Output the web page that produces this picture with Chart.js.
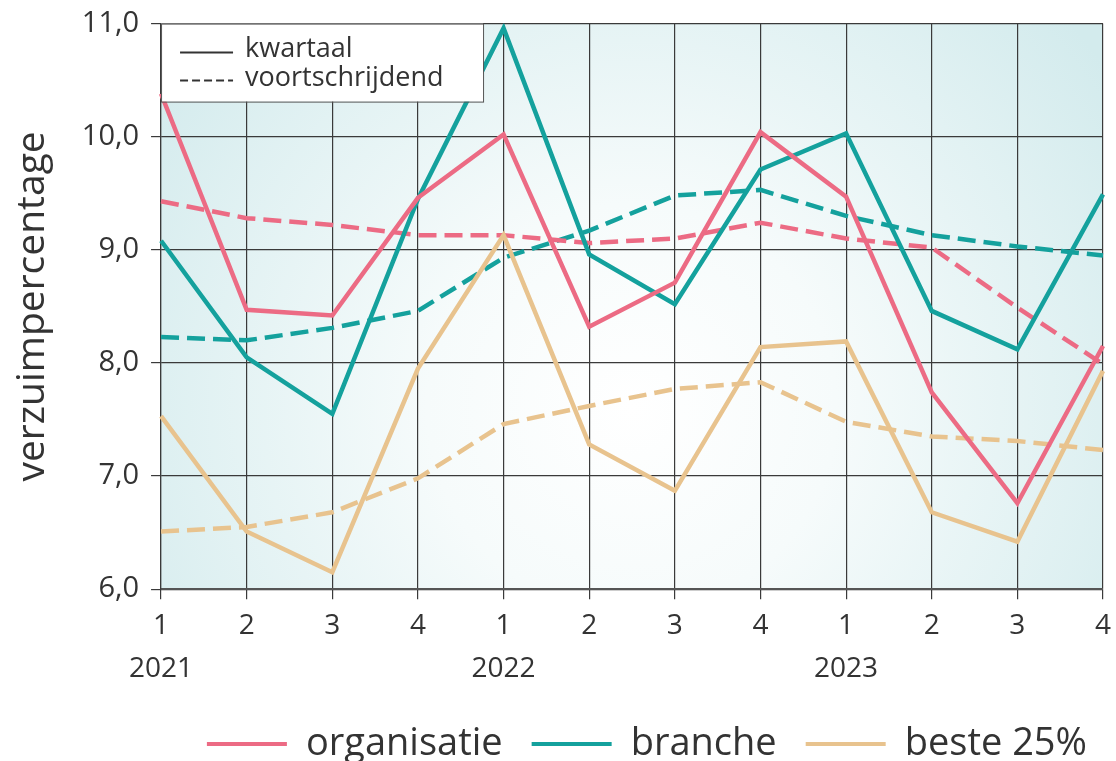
<!DOCTYPE html>
<html>
<head>
<meta charset="utf-8">
<script src="https://cdn.jsdelivr.net/npm/chart.js@4.4.1/dist/chart.umd.min.js"></script>
<style>
  html, body { margin: 0; padding: 0; background: #fff; }
  #wrap { width: 1116px; height: 761px; }
</style>
</head>
<body>
<div id="wrap"><canvas id="chart"></canvas></div>
<script>
  // kwartalen en jaartallen op de x-as
  const quarters = ['1', '2', '3', '4', '1', '2', '3', '4', '1', '2', '3', '4'];
  const years = ['2021', '', '', '', '2022', '', '', '', '2023', '', '', ''];

  // verzuimpercentages per kwartaal
  const orgKwartaal = [10.38, 8.47, 8.42, 9.46, 10.02, 8.32, 8.71, 10.04, 9.47, 7.74, 6.76, 8.15];
  const brancheKwartaal = [9.08, 8.05, 7.55, 9.45, 10.96, 8.96, 8.52, 9.71, 10.03, 8.46, 8.12, 9.49];
  const besteKwartaal = [7.53, 6.51, 6.15, 7.95, 9.13, 7.28, 6.87, 8.14, 8.19, 6.68, 6.42, 7.93];

  // voortschrijdend gemiddelde
  const orgVoort = [9.43, 9.28, 9.22, 9.13, 9.13, 9.06, 9.10, 9.24, 9.10, 9.02, 8.49, 7.99];
  const brancheVoort = [8.23, 8.20, 8.31, 8.46, 8.93, 9.17, 9.48, 9.53, 9.30, 9.13, 9.03, 8.95];
  const besteVoort = [6.51, 6.55, 6.68, 6.98, 7.46, 7.62, 7.77, 7.83, 7.48, 7.35, 7.31, 7.23];

  const yTicks = [6, 7, 8, 9, 10, 11];

  const PINK = '#ec6b84';
  const TEAL = '#14a19d';
  const TAN = '#e8c38e';
  const FONT = "'Open Sans', sans-serif";

  const labels = quarters.map((q, i) => years[i] ? [q, years[i]] : q);

  const lineDataset = (label, data, color, dashed) => ({
    label,
    data,
    borderColor: color,
    backgroundColor: color,
    borderWidth: 4.5,
    borderDash: dashed ? [18, 8] : [],
    pointRadius: 0,
    tension: 0,
    fill: false,
    dashed
  });

  // achtergrond met radiale kleurverloop
  const bgPlugin = {
    id: 'bgGradient',
    beforeDraw(chart) {
      const { ctx, chartArea: a } = chart;
      const cx = a.left + a.width * 0.5;
      const cy = a.top + a.height * 0.68;
      const g = ctx.createRadialGradient(cx, cy, 0, cx, cy, a.width * 0.62);
      g.addColorStop(0, '#ffffff');
      g.addColorStop(0.35, '#f6fbfb');
      g.addColorStop(1, '#d3ebed');
      ctx.save();
      ctx.fillStyle = g;
      ctx.fillRect(a.left, a.top, a.width, a.height);
      ctx.restore();
    }
  };

  // legenda linksboven: kwartaal / voortschrijdend
  const styleLegend = {
    id: 'styleLegend',
    afterDatasetsDraw(chart) {
      const { ctx, chartArea: a } = chart;
      const x = a.left, y = a.top, w = 322, h = 78;
      ctx.save();
      ctx.fillStyle = '#ffffff';
      ctx.fillRect(x, y, w, h);
      ctx.strokeStyle = '#555';
      ctx.lineWidth = 1;
      ctx.strokeRect(x + 0.5, y + 0.5, w, h);
      ctx.strokeStyle = '#333';
      ctx.lineWidth = 2;
      ctx.beginPath();
      ctx.moveTo(x + 19, y + 29);
      ctx.lineTo(x + 72, y + 29);
      ctx.stroke();
      ctx.setLineDash([8, 4]);
      ctx.beginPath();
      ctx.moveTo(x + 19, y + 57);
      ctx.lineTo(x + 72, y + 57);
      ctx.stroke();
      ctx.setLineDash([]);
      ctx.fillStyle = '#333';
      ctx.font = "27px " + FONT;
      ctx.textBaseline = 'middle';
      ctx.fillText('kwartaal', x + 84, y + 26);
      ctx.fillText('voortschrijdend', x + 84, y + 55);
      ctx.restore();
    }
  };

  new Chart(document.getElementById('chart'), {
    type: 'line',
    data: {
      labels,
      datasets: [
        lineDataset('organisatie', orgKwartaal, PINK, false),
        lineDataset('branche', brancheKwartaal, TEAL, false),
        lineDataset('beste 25%', besteKwartaal, TAN, false),
        lineDataset('organisatie voortschrijdend', orgVoort, PINK, true),
        lineDataset('branche voortschrijdend', brancheVoort, TEAL, true),
        lineDataset('beste 25% voortschrijdend', besteVoort, TAN, true)
      ]
    },
    options: {
      responsive: true,
      maintainAspectRatio: false,
      animation: false,
      layout: { padding: { left: 0, right: 0, top: 0, bottom: -12 } },
      plugins: {
        tooltip: { enabled: false },
        legend: {
          position: 'bottom',
          align: 'end',
          labels: {
            font: { family: FONT, size: 38 },
            color: '#333',
            boxWidth: 80,
            boxHeight: 4,
            padding: 29,
            generateLabels(chart) {
              return chart.data.datasets
                .map((ds, i) => ({ ds, i }))
                .filter(o => !o.ds.dashed)
                .map(o => ({
                  text: o.ds.label,
                  fillStyle: o.ds.borderColor,
                  strokeStyle: o.ds.borderColor,
                  lineWidth: 0,
                  datasetIndex: o.i,
                  fontColor: '#333'
                }));
            }
          }
        }
      },
      scales: {
        x: {
          type: 'category',
          offset: false,
          grid: { color: '#3a3a3a', lineWidth: 1.2, tickLength: 10, drawOnChartArea: true },
          border: { color: '#555', width: 2 },
          ticks: {
            font: { family: FONT, size: 28, lineHeight: 1.55 },
            color: '#333',
            padding: 5,
            maxRotation: 0,
            autoSkip: false
          }
        },
        y: {
          min: yTicks[0],
          max: yTicks[yTicks.length - 1],
          afterBuildTicks(scale) {
            scale.ticks = yTicks.map(v => ({ value: v }));
          },
          grid: { color: '#3a3a3a', lineWidth: 1.2, tickLength: 10 },
          border: { color: '#3a3a3a', width: 1.2 },
          title: {
            display: true,
            text: 'verzuimpercentage',
            font: { family: FONT, size: 39 },
            color: '#333',
            padding: { top: 9, bottom: 14 }
          },
          ticks: {
            font: { family: FONT, size: 29, lineHeight: 0.8 },
            color: '#333',
            padding: 12,
            callback: v => v.toFixed(1).replace('.', ',')
          }
        }
      }
    },
    plugins: [bgPlugin, styleLegend]
  });
</script>
</body>
</html>
